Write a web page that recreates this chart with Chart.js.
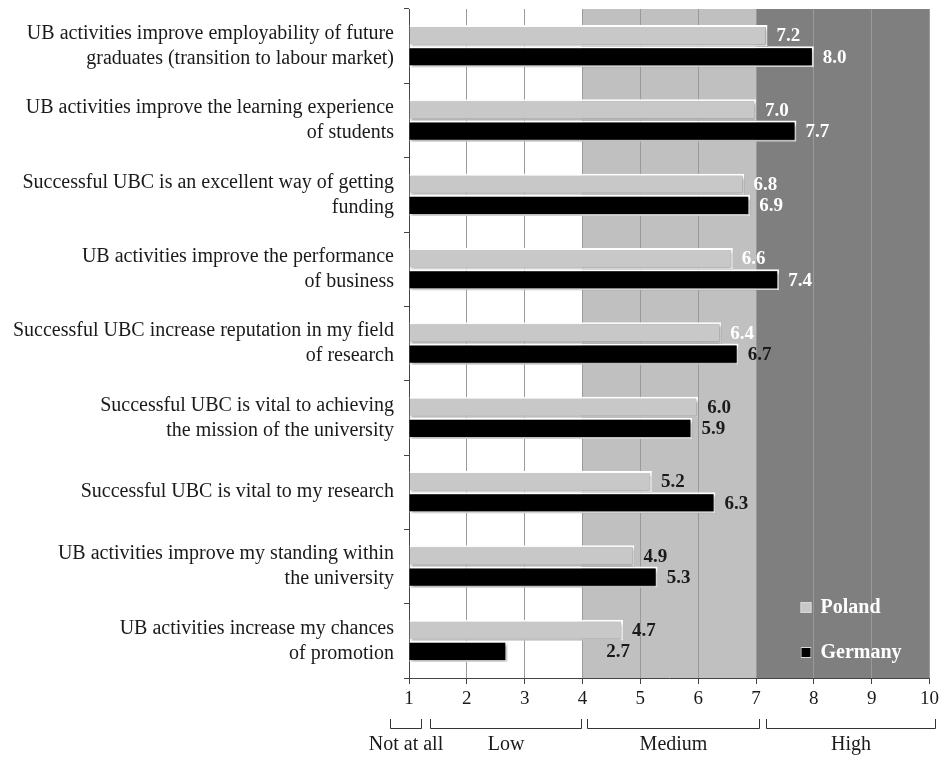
<!DOCTYPE html>
<html>
<head>
<meta charset="utf-8">
<title>UB activities - Poland vs Germany</title>
<script src="https://cdn.jsdelivr.net/npm/chart.js@4.4.0/dist/chart.umd.min.js"></script>
<style>
    html, body { margin: 0; padding: 0; background: #fff; }
    #wrap { width: 943px; height: 757px; }
</style>
</head>
<body>
<div id="wrap"><canvas id="ubChart" width="943" height="757"></canvas></div>
<script>
// statements (two lines each where the label wraps)
const statements = [
    ['UB activities improve employability of future', 'graduates (transition to labour market)'],
    ['UB activities improve the learning experience', 'of students'],
    ['Successful UBC is an excellent way of getting', 'funding'],
    ['UB activities improve the performance', 'of business'],
    ['Successful UBC increase reputation in my field', 'of research'],
    ['Successful UBC is vital to achieving', 'the mission of the university'],
    ['Successful UBC is vital to my research'],
    ['UB activities improve my standing within', 'the university'],
    ['UB activities increase my chances', 'of promotion']
];
const polandScores  = [7.2, 7.0, 6.8, 6.6, 6.4, 6.0, 5.2, 4.9, 4.7];
const germanyScores = [8.0, 7.7, 6.9, 7.4, 6.7, 5.9, 6.3, 5.3, 2.7];

// scale 1..10 and the rating bands under the axis
const scaleMin = 1;
const scaleMax = 10;
const bandNames = ['Not at all', 'Low', 'Medium', 'High'];
const bandFrom  = [0.67, 1.36, 4.07, 7.17];
const bandTo    = [1.21, 3.98, 7.05, 10.1];

const SERIF = '"Liberation Serif", "Times New Roman", serif';

// shaded background: 4-7 light gray, 7-10 dark gray
const bandShading = {
    id: 'bandShading',
    beforeDraw(chart) {
        const { ctx, chartArea, scales } = chart;
        const x = scales.x;
        const fills = [[4, 7, '#c0c0c0'], [7, 10, '#7f7f7f']];
        ctx.save();
        fills.forEach(f => {
            const x0 = x.getPixelForValue(f[0]);
            const x1 = x.getPixelForValue(f[1]);
            ctx.fillStyle = f[2];
            ctx.fillRect(x0, chartArea.top, x1 - x0, chartArea.bottom - chartArea.top);
        });
        ctx.restore();
    }
};

// soft drop shadow under the bars
const barShadow = {
    id: 'barShadow',
    beforeDatasetsDraw(chart) {
        const ctx = chart.ctx;
        ctx.save();
        ctx.shadowColor = 'rgba(0,0,0,0.35)';
        ctx.shadowBlur = 3;
        ctx.shadowOffsetX = 1.5;
        ctx.shadowOffsetY = 2;
    },
    afterDatasetsDraw(chart) {
        chart.ctx.restore();
    }
};

// value labels next to each bar
const valueLabels = {
    id: 'valueLabels',
    afterDatasetsDraw(chart) {
        const ctx = chart.ctx;
        ctx.save();
        ctx.font = 'bold 19px ' + SERIF;
        ctx.textBaseline = 'middle';
        const pol = chart.getDatasetMeta(0).data;
        const ger = chart.getDatasetMeta(1).data;
        const white = [6.3, 6.8]; // thresholds above which the label is white
        [pol, ger].forEach((bars, di) => {
            const values = chart.data.datasets[di].data;
            bars.forEach((bar, i) => {
                const v = values[i];
                const txt = v.toFixed(1);
                let x = bar.x + 9;
                ctx.textAlign = 'left';
                // a much shorter Germany bar gets its label tucked beside the Poland one
                if (di === 1 && polandScores[i] - v > 1.5) {
                    x = pol[i].x + 7;
                    ctx.textAlign = 'right';
                }
                ctx.fillStyle = v > white[di] ? '#ffffff' : '#1a1a1a';
                ctx.fillText(txt, x, bar.y + 1);
            });
        });
        ctx.restore();
    }
};

// legend sitting in the lower right of the plot
const cornerLegend = {
    id: 'cornerLegend',
    afterDraw(chart) {
        const { ctx, chartArea } = chart;
        ctx.save();
        ctx.font = 'bold 20px ' + SERIF;
        ctx.textBaseline = 'middle';
        ctx.textAlign = 'left';
        const rows = [chartArea.bottom - 71, chartArea.bottom - 26];
        chart.data.datasets.forEach((ds, i) => {
            const y = rows[i];
            const x = chartArea.right - 129;
            ctx.fillStyle = ds.backgroundColor;
            ctx.fillRect(x, y - 5, 11, 11);
            ctx.strokeStyle = '#d8d8d8';
            ctx.lineWidth = 1;
            ctx.strokeRect(x + 0.5, y - 4.5, 10, 10);
            ctx.fillStyle = '#ffffff';
            ctx.fillText(ds.label, x + 20, y + 1);
        });
        ctx.restore();
    }
};

// brackets with the rating words under the x axis
const ratingBrackets = {
    id: 'ratingBrackets',
    afterDraw(chart) {
        const { ctx, scales } = chart;
        const x = scales.x;
        const yLine = 728.5, yTop = 719;
        ctx.save();
        ctx.strokeStyle = '#333';
        ctx.lineWidth = 1;
        ctx.fillStyle = '#1a1a1a';
        ctx.font = '20px ' + SERIF;
        ctx.textAlign = 'center';
        ctx.textBaseline = 'middle';
        bandNames.forEach((name, i) => {
            const x0 = Math.round(x.getPixelForValue(bandFrom[i])) + 0.5;
            const x1 = Math.round(x.getPixelForValue(bandTo[i])) + 0.5;
            ctx.beginPath();
            ctx.moveTo(x0, yTop);
            ctx.lineTo(x0, yLine);
            ctx.lineTo(x1, yLine);
            ctx.lineTo(x1, yTop);
            ctx.stroke();
            ctx.fillText(name, (x0 + x1) / 2, 745);
        });
        ctx.restore();
    }
};

const ctx = document.getElementById('ubChart').getContext('2d');
const ubChart = new Chart(ctx, {
    type: 'bar',
    data: {
        labels: statements,
        datasets: [{
            label: 'Poland',
            data: polandScores,
            base: scaleMin,
            backgroundColor: '#c8c8c8',
            borderColor: '#ffffff',
            borderWidth: 2,
            categoryPercentage: 0.57,
            barPercentage: 1
        }, {
            label: 'Germany',
            data: germanyScores,
            base: scaleMin,
            backgroundColor: '#000000',
            borderColor: '#ffffff',
            borderWidth: 2,
            categoryPercentage: 0.57,
            barPercentage: 1
        }]
    },
    options: {
        indexAxis: 'y',
        responsive: false,
        devicePixelRatio: 1,
        animation: false,
        layout: { padding: { top: 9, right: 12, bottom: 0, left: 0 } },
        plugins: {
            legend: { display: false },
            tooltip: { enabled: false }
        },
        scales: {
            x: {
                min: scaleMin,
                max: scaleMax,
                afterFit(scale) { scale.height = 79; },
                ticks: {
                    stepSize: 1,
                    padding: 4,
                    color: '#1a1a1a',
                    font: { family: SERIF, size: 19 }
                },
                grid: {
                    color: '#9a9a9a',
                    tickColor: '#444',
                    tickLength: 6
                },
                border: { color: '#444', width: 1 }
            },
            y: {
                afterFit(scale) {
                    scale.width = 409;
                    // keep the plot running full height despite the two-line labels
                    scale.paddingTop = 0;
                    scale.paddingBottom = 0;
                },
                ticks: {
                    padding: 10,
                    color: '#1a1a1a',
                    font: { family: SERIF, size: 20, lineHeight: 1.25 }
                },
                grid: {
                    offset: true,
                    drawOnChartArea: false,
                    tickColor: '#444',
                    tickLength: 5
                },
                border: { color: '#444', width: 1 }
            }
        }
    },
    plugins: [bandShading, barShadow, valueLabels, cornerLegend, ratingBrackets]
});
</script>
</body>
</html>
